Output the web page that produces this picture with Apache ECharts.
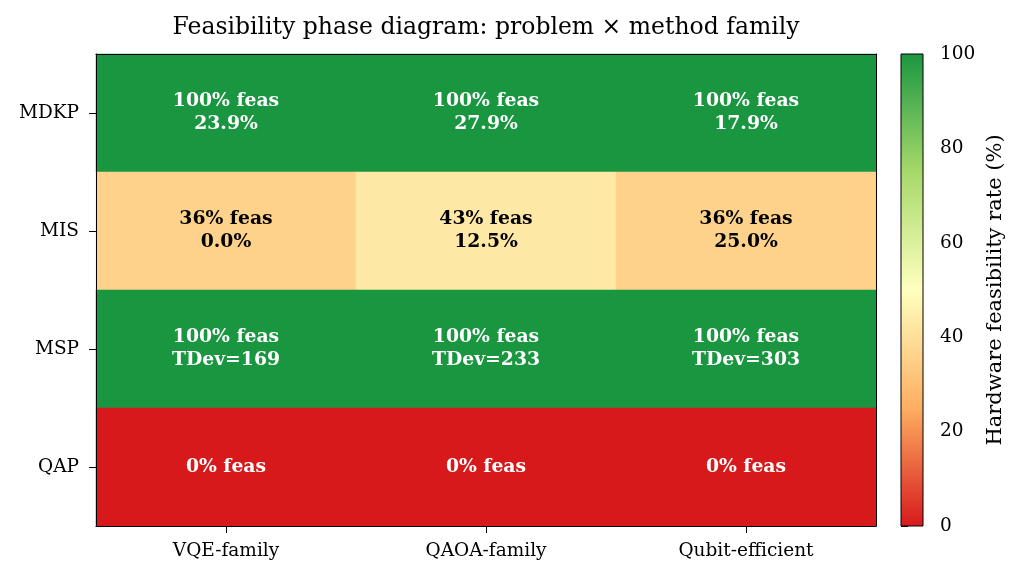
<!DOCTYPE html>
<html>
<head>
<meta charset="utf-8">
<script src="https://cdn.jsdelivr.net/npm/echarts@6/dist/echarts.min.js"></script>
<style>html,body{margin:0;padding:0;background:#fff;}#c{width:1024px;height:578px;}</style>
</head>
<body>
<div id="c"></div>
<script>
const problems = ['MDKP', 'MIS', 'MSP', 'QAP'];
const methods = ['VQE-family', 'QAOA-family', 'Qubit-efficient'];
const feasibility = [
  [100, 100, 100],
  [36, 43, 36],
  [100, 100, 100],
  [0, 0, 0]
];
const secondary = [
  ['23.9%', '27.9%', '17.9%'],
  ['0.0%', '12.5%', '25.0%'],
  ['TDev=169', 'TDev=233', 'TDev=303'],
  ['', '', '']
];
const colorbarTicks = [0, 20, 40, 60, 80, 100];
const cmapColors = ['#d7191c', '#fdae61', '#ffffbf', '#a6d96a', '#1a9641'];

const FONT = 'DejaVu Serif';
const heatData = [];
problems.forEach((p, i) => {
  methods.forEach((m, j) => {
    const v = feasibility[i][j];
    const txt = v + '% feas' + (secondary[i][j] ? '\n' + secondary[i][j] : '');
    heatData.push({
      value: [j, i, v],
      label: { color: (v >= 70 || v <= 30) ? '#ffffff' : '#000000', formatter: txt }
    });
  });
});

const frameAxis = { show: true, lineStyle: { color: '#000', width: 1 } };
const chart = echarts.init(document.getElementById('c'));
chart.setOption({
  backgroundColor: '#ffffff',
  animation: false,
  title: {
    text: 'Feasibility phase diagram: problem × method family',
    left: 486, textAlign: 'center', top: 16, padding: 0,
    textStyle: { fontFamily: FONT, fontSize: 23.5, fontWeight: 'normal', color: '#000' }
  },
  grid: [
    { left: 96, right: 148, top: 54, bottom: 52, show: false },
    { left: 901, width: 22, top: 54, bottom: 52, show: false }
  ],
  xAxis: [
    {
      type: 'category', data: methods, gridIndex: 0, z: 10,
      axisLine: frameAxis,
      axisTick: { show: true, alignWithLabel: true, length: 7, lineStyle: { color: '#000' } },
      axisLabel: { fontFamily: FONT, fontSize: 18.5, color: '#000', margin: 16 },
      splitLine: { show: false }
    },
    { type: 'value', gridIndex: 1, min: 0, max: 1, show: false },
    {
      type: 'category', data: methods, gridIndex: 0, position: 'top', z: 10,
      axisLine: frameAxis, axisTick: { show: false }, axisLabel: { show: false }, splitLine: { show: false }
    }
  ],
  yAxis: [
    {
      type: 'category', data: problems, gridIndex: 0, inverse: true, z: 10,
      axisLine: frameAxis,
      axisTick: { show: true, alignWithLabel: true, length: 7, lineStyle: { color: '#000' } },
      axisLabel: { fontFamily: FONT, fontSize: 18.5, color: '#000', margin: 17 },
      splitLine: { show: false }
    },
    {
      type: 'value', gridIndex: 1, min: 0, max: 100, interval: 20, position: 'right',
      axisLine: { show: false },
      axisTick: { show: true, length: 7, lineStyle: { color: '#000' } },
      axisLabel: { fontFamily: FONT, fontSize: 18.5, color: '#000', margin: 17,
        formatter: v => colorbarTicks.includes(v) ? String(v) : '' },
      splitLine: { show: false },
      name: 'Hardware feasibility rate (%)', nameLocation: 'middle', nameGap: 62, nameRotate: 90,
      nameTextStyle: { fontFamily: FONT, fontSize: 21, color: '#000' }
    },
    {
      type: 'category', data: problems, gridIndex: 0, inverse: true, position: 'right', z: 10,
      axisLine: frameAxis, axisTick: { show: false }, axisLabel: { show: false }, splitLine: { show: false }
    }
  ],
  visualMap: {
    type: 'continuous', min: 0, max: 100, show: false, seriesIndex: 0,
    inRange: { color: cmapColors }
  },
  series: [
    {
      type: 'heatmap', xAxisIndex: 0, yAxisIndex: 0, data: heatData,
      itemStyle: { borderWidth: 0 },
      label: { show: true, fontFamily: FONT, fontSize: 18.8, fontWeight: 'bold', lineHeight: 23, align: 'center' },
      emphasis: { disabled: true }
    },
    {
      type: 'custom', xAxisIndex: 1, yAxisIndex: 1, data: [[0]], silent: true, z: 5,
      renderItem: function (params, api) {
        const cs = params.coordSys;
        const top = api.coord([0, colorbarTicks[colorbarTicks.length - 1]])[1];
        const bot = api.coord([0, colorbarTicks[0]])[1];
        const stops = cmapColors.slice().reverse().map((c, k) => ({ offset: k / (cmapColors.length - 1), color: c }));
        return {
          type: 'rect',
          shape: { x: cs.x, y: top, width: cs.width, height: bot - top },
          style: { fill: new echarts.graphic.LinearGradient(0, 0, 0, 1, stops), stroke: '#000', lineWidth: 1 }
        };
      }
    }
  ]
});
</script>
</body>
</html>
